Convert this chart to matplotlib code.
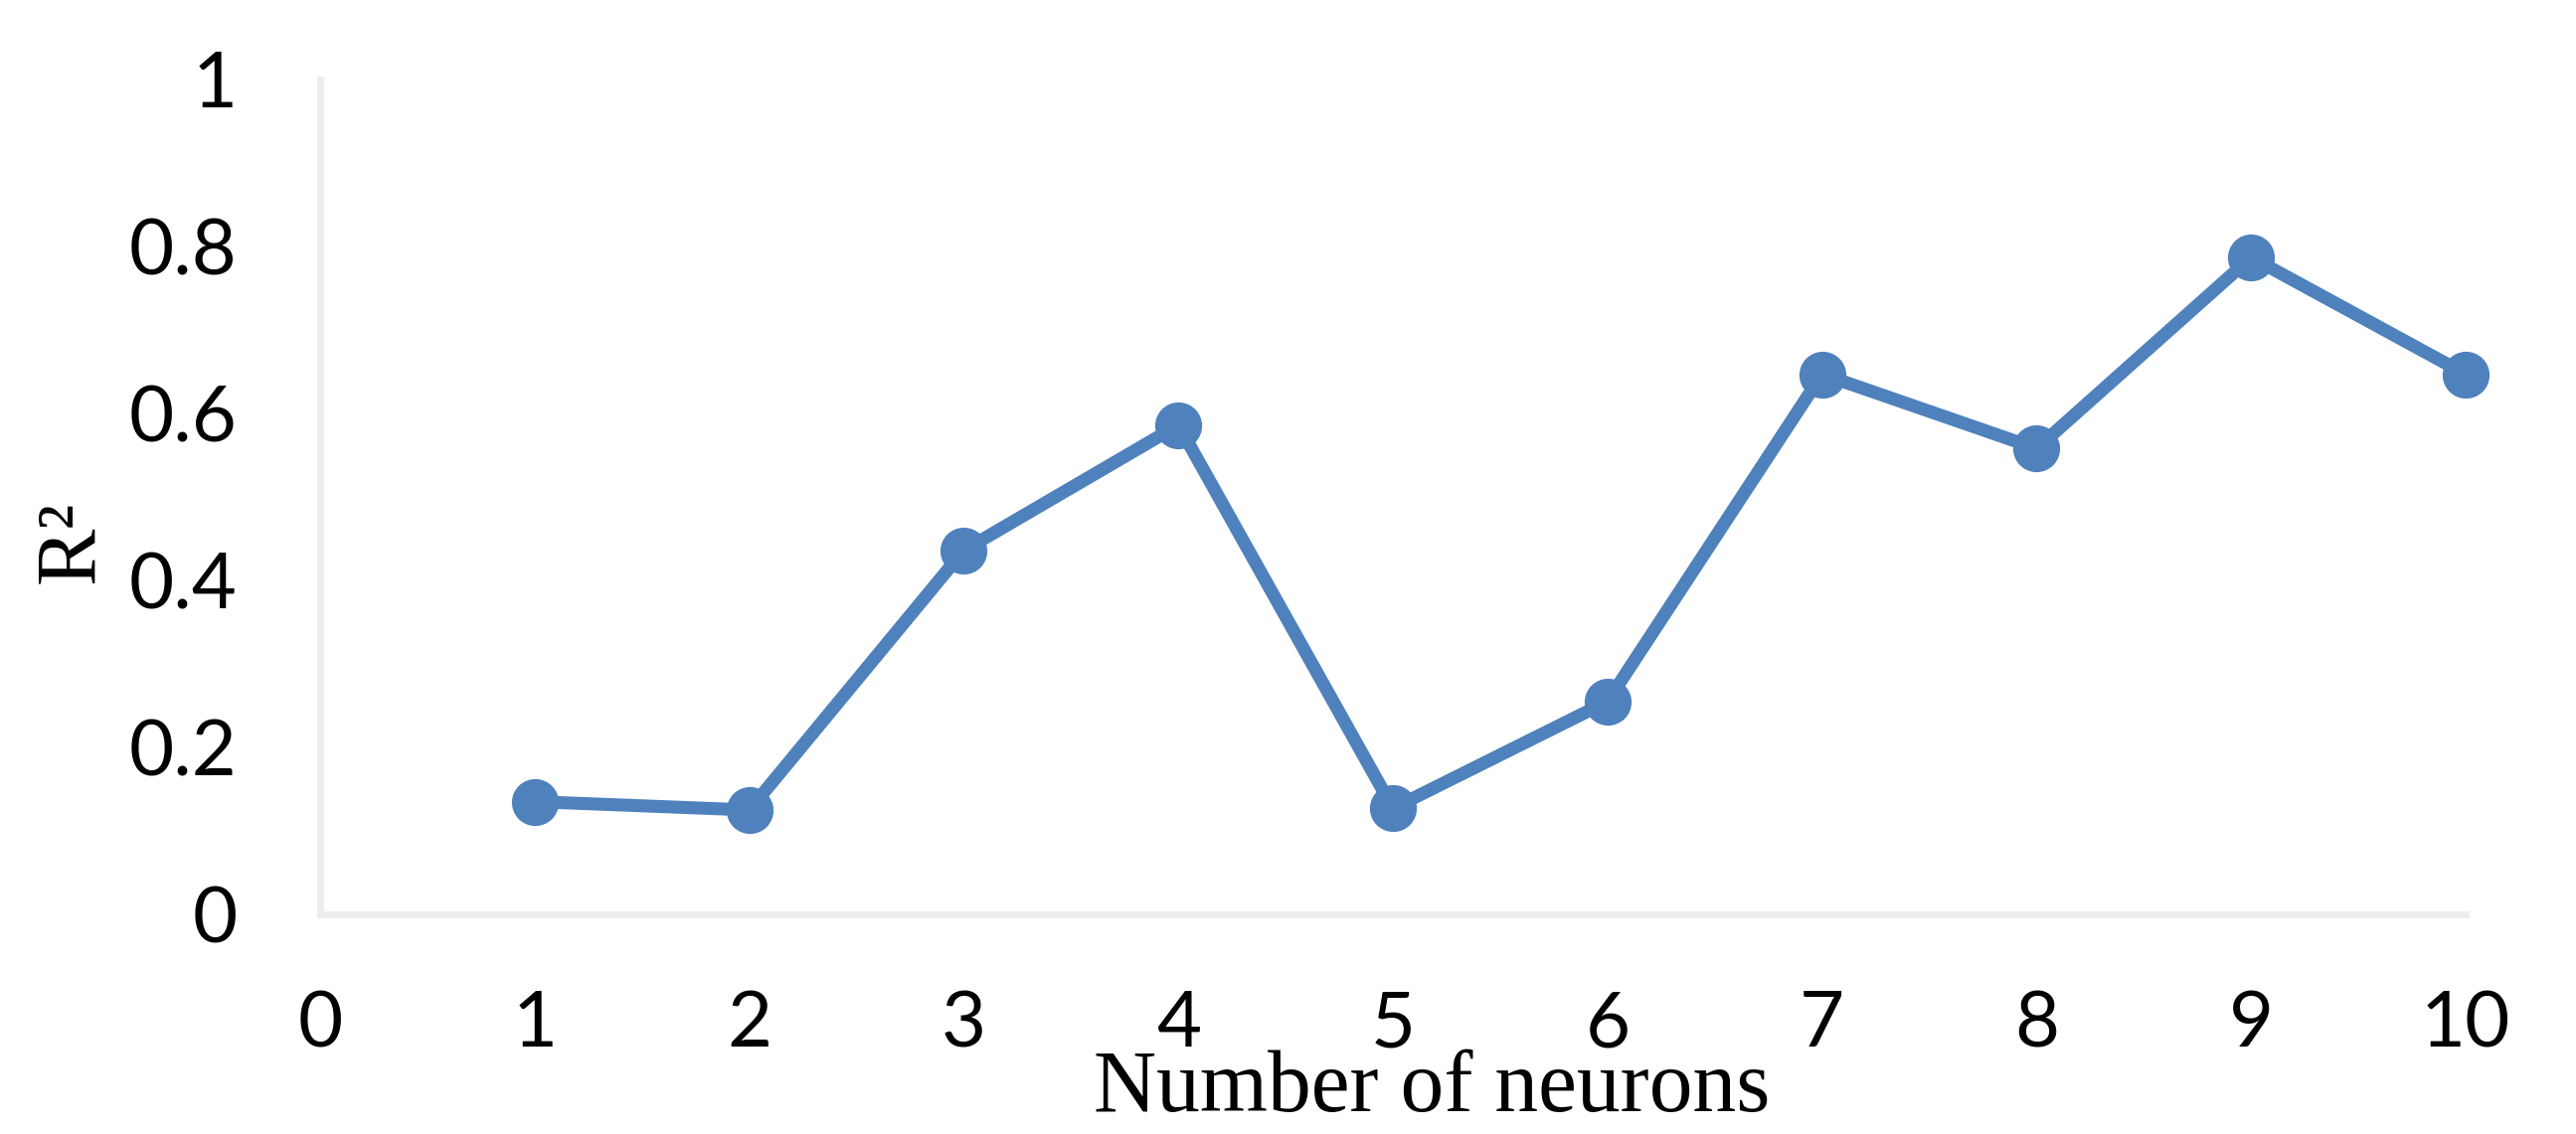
import numpy as np
import matplotlib
matplotlib.use('Agg')
import matplotlib.pyplot as plt

neurons = [1, 2, 3, 4, 5, 6, 7, 8, 9, 10]
r2 = [0.135, 0.125, 0.436, 0.586, 0.127, 0.255, 0.647, 0.558, 0.787, 0.647]
xticks = list(range(0, 11))
yticks = [0, 0.2, 0.4, 0.6, 0.8, 1]
ytick_labels = ['0', '0.2', '0.4', '0.6', '0.8', '1']

LINE_COLOR = '#4F81BD'
SPINE_COLOR = '#EDEDED'
TICK_FONT = 'Lato'
LABEL_FONT = 'Liberation Serif'

fig = plt.figure(figsize=(25.91, 11.41), dpi=100)
ax = fig.add_axes([0.1243, 0.1937, 0.9572 - 0.1243, 0.9299 - 0.1937])

ax.plot(neurons, r2, color=LINE_COLOR, linewidth=9.4, marker='o',
        markersize=34, markerfacecolor=LINE_COLOR, markeredgewidth=0,
        solid_joinstyle='round', clip_on=False)

ax.set_xlim(0, 10)
ax.set_ylim(0, 1)
ax.set_xticks(xticks)
ax.set_yticks(yticks)
ax.set_yticklabels(ytick_labels)

for side in ['top', 'right']:
    ax.spines[side].set_visible(False)
for side in ['left', 'bottom']:
    ax.spines[side].set_color(SPINE_COLOR)
    ax.spines[side].set_linewidth(5)

ax.tick_params(axis='both', length=0, labelsize=56)
ax.tick_params(axis='x', pad=55)
ax.tick_params(axis='y', pad=60)
for lab in ax.get_xticklabels() + ax.get_yticklabels():
    lab.set_fontfamily(TICK_FONT)

# axis titles sit where the original put them (x title overlaps the tick row)
fig.text(0.5558, 0.0202, 'Number of neurons', fontfamily=LABEL_FONT,
         fontsize=63, ha='center', va='baseline')
fig.text(0.0363, 0.5224, 'R\u00b2', fontfamily=LABEL_FONT, fontsize=62,
         rotation=90, rotation_mode='anchor', ha='center', va='baseline')

fig.savefig('out.png', dpi=100)
